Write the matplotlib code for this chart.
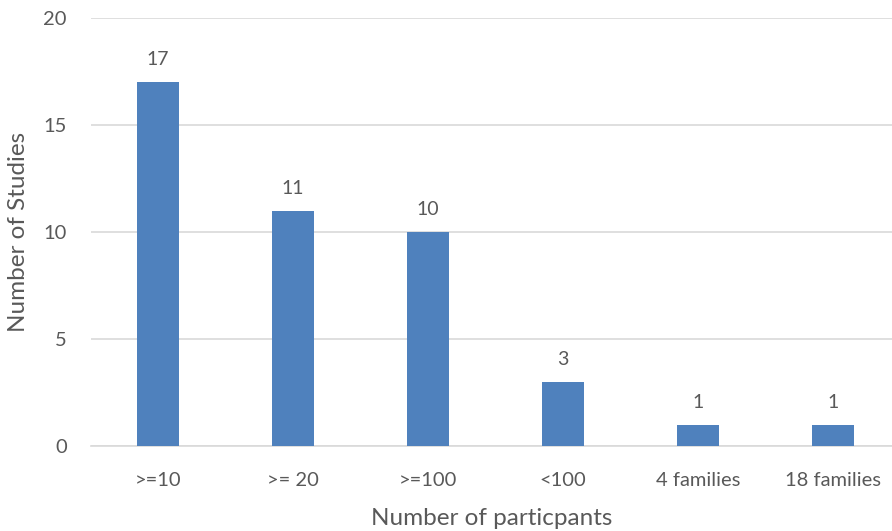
import numpy as np
import matplotlib
matplotlib.use('Agg')
import matplotlib.pyplot as plt

# participant-count groups and how many studies fall in each
categories = ['>=10', '>= 20', '>=100', '<100', '4 families', '18 families']
studies = [17, 11, 10, 3, 1, 1]
yticks = [0, 5, 10, 15, 20]

BAR_COLOR = '#4F81BD'
TEXT_COLOR = '#595959'
GRID_COLOR = '#D9D9D9'

plt.rcParams['font.family'] = ['Lato', 'DejaVu Sans']

fig = plt.figure(figsize=(8.92, 5.31), dpi=100)
ax = fig.add_axes([90.5 / 892, 85 / 531, 1 - 90.5 / 892, 428 / 531])

x = np.arange(len(categories))
bars = ax.bar(x, studies, width=0.31, color=BAR_COLOR, zorder=3)

for rect, val in zip(bars, studies):
    ax.annotate(str(val), (rect.get_x() + rect.get_width() / 2, val),
                xytext=(0, 10), textcoords='offset points',
                ha='center', va='bottom', fontsize=14, color=TEXT_COLOR)

ax.set_xlim(-0.5, 5.44)
ax.set_ylim(0, 20)
ax.set_yticks(yticks)
ax.set_xticks(x)
ax.set_xticklabels(categories)
ax.yaxis.grid(True, color=GRID_COLOR, linewidth=1.2, zorder=0)
ax.tick_params(axis='both', length=0, labelsize=14.5, labelcolor=TEXT_COLOR)
ax.tick_params(axis='y', pad=17)
ax.tick_params(axis='x', pad=18.5)

for side in ['top', 'right', 'left']:
    ax.spines[side].set_visible(False)
ax.spines['bottom'].set_color(GRID_COLOR)
ax.spines['bottom'].set_linewidth(1.2)

ax.set_ylabel('Number of Studies', fontsize=17.5, color=TEXT_COLOR, labelpad=10)
ax.set_xlabel('Number of particpants', fontsize=17.5, color=TEXT_COLOR, labelpad=14)

fig.savefig('out.png', dpi=100)
